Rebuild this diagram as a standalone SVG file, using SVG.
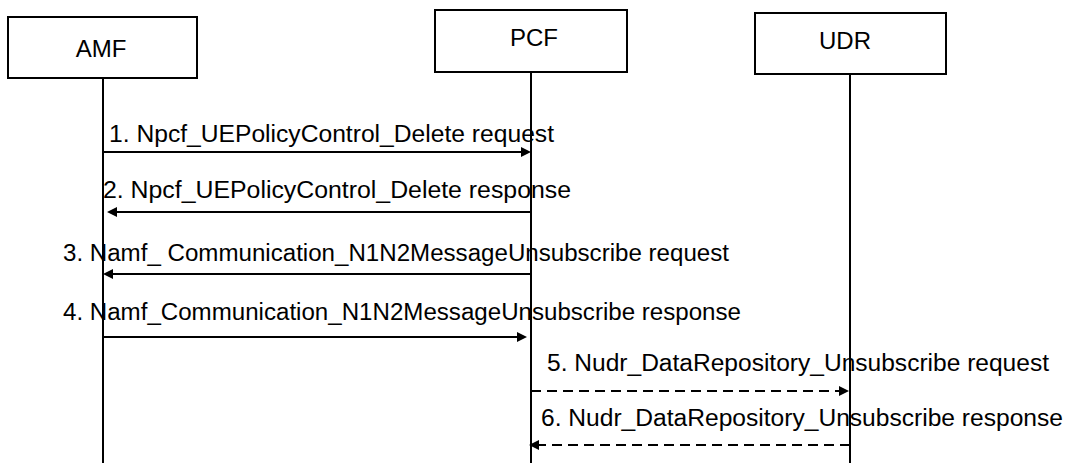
<svg xmlns="http://www.w3.org/2000/svg" width="1069" height="463" viewBox="0 0 1069 463">
<style>
.box{fill:#fff;stroke:#000;stroke-width:2}
.life{stroke:#000;stroke-width:2;fill:none}
.msg{stroke:#000;stroke-width:2;fill:none;marker-end:url(#ah)}
.dash{stroke-dasharray:10 6}
.lbl{font-family:"Liberation Sans",Arial,sans-serif;font-size:24px;fill:#000;text-anchor:middle}
.mt{font-family:"Liberation Sans",Arial,sans-serif;font-size:23px;fill:#000}
</style>
<defs>
<marker id="ah" markerUnits="userSpaceOnUse" markerWidth="12" markerHeight="12" refX="5" refY="5" orient="auto">
<path d="M0,0 L10,5 L0,10 z" fill="#000"/>
</marker>
</defs>
<rect width="1069" height="463" fill="#fff"/>
<g id="AMF">
<rect class="box" x="8" y="17" width="189" height="61"/>
<text class="lbl" x="101" y="57">AMF</text>
<line class="life" x1="103" y1="78" x2="103" y2="463"/>
</g>
<g id="PCF">
<rect class="box" x="435" y="10" width="192" height="62"/>
<text class="lbl" x="534" y="46">PCF</text>
<line class="life" x1="531" y1="72" x2="531" y2="463"/>
</g>
<g id="UDR">
<rect class="box" x="755" y="13" width="191" height="61"/>
<text class="lbl" x="845" y="49">UDR</text>
<line class="life" x1="850" y1="74" x2="850" y2="463"/>
</g>
<g id="connectors">
<line class="msg" x1="103" y1="152" x2="526" y2="152"/>
<line class="msg" x1="531" y1="212" x2="112" y2="212"/>
<line class="msg" x1="531" y1="274" x2="108" y2="274"/>
<line class="msg" x1="103" y1="337" x2="522" y2="337"/>
<line class="msg dash" x1="531" y1="391" x2="844" y2="391"/>
<line class="msg dash" x1="850" y1="445" x2="534" y2="445"/>
</g>
<g id="labels">
<text class="mt" x="109" y="142" textLength="445" lengthAdjust="spacingAndGlyphs">1. Npcf_UEPolicyControl_Delete request</text>
<text class="mt" x="103" y="198" textLength="468" lengthAdjust="spacingAndGlyphs">2. Npcf_UEPolicyControl_Delete response</text>
<text class="mt" x="63" y="261" textLength="666" lengthAdjust="spacingAndGlyphs">3. Namf_ Communication_N1N2MessageUnsubscribe request</text>
<text class="mt" x="63" y="320" textLength="678" lengthAdjust="spacingAndGlyphs">4. Namf_Communication_N1N2MessageUnsubscribe response</text>
<text class="mt" x="547" y="371" textLength="502" lengthAdjust="spacingAndGlyphs">5. Nudr_DataRepository_Unsubscribe request</text>
<text class="mt" x="541" y="426" textLength="522" lengthAdjust="spacingAndGlyphs">6. Nudr_DataRepository_Unsubscribe response</text>
</g>
</svg>
